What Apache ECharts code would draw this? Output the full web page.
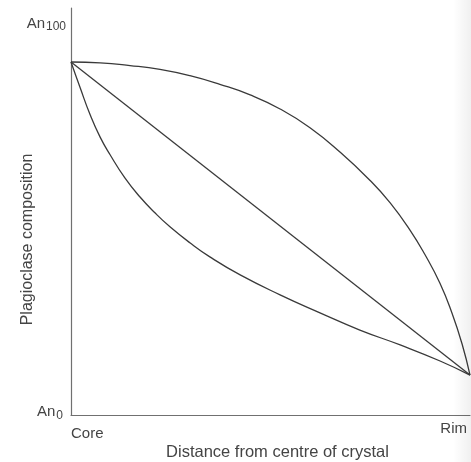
<!DOCTYPE html>
<html>
<head>
<meta charset="utf-8">
<script src="https://cdn.jsdelivr.net/npm/echarts@6/dist/echarts.min.js"></script>
<style>
  html, body { margin: 0; padding: 0; background: #ffffff; }
  #chart { width: 471px; height: 462px; }
</style>
</head>
<body>
<div id="chart"></div>
<script>
// Distance from core (0) to rim (100) across the crystal, composition in % An
const upperX = [0, 7.3, 14.8, 22.3, 29.8, 37.3, 44.9, 52.4, 59.9, 67.4, 74.9, 80.0, 85.0, 88.7, 92.5, 95.5, 98.0, 100];
const upperY = [90.2, 90.0, 89.3, 88.3, 86.7, 84.5, 81.8, 78.2, 73.4, 67.2, 60.0, 54.2, 47.2, 41.0, 33.6, 26.0, 18.2, 10.2];

const straightX = [0, 100];
const straightY = [90.2, 10.2];

const lowerX = [0, 2.3, 4.8, 7.3, 9.8, 13.5, 17.3, 21.1, 24.8, 29.8, 34.8, 42.4, 52.4, 62.4, 72.4, 82.5, 92.5, 100];
const lowerY = [90.2, 83.6, 76.7, 71.0, 66.5, 60.6, 55.7, 51.6, 48.1, 44.0, 40.4, 35.8, 30.7, 26.1, 21.7, 17.9, 13.8, 10.2];

// Axis end labels
const xTickValues = [0, 100];
const xTickLabels = ['Core', 'Rim'];
const yTickValues = [0, 100];
const yTickLabels = [['An', '0'], ['An', '100']];

const FONT = '"Liberation Sans", Arial, Helvetica, sans-serif';
const INK = '#3a3a3a';
const TEXT = '#444';

function pairs(xs, ys) {
  return xs.map((x, i) => [x, ys[i]]);
}

function curve(xs, ys, smooth) {
  return {
    type: 'line',
    data: pairs(xs, ys),
    smooth: smooth,
    showSymbol: false,
    silent: true,
    lineStyle: { color: INK, width: 1.3 },
    z: 3
  };
}

const chart = echarts.init(document.getElementById('chart'), null, { renderer: 'canvas' });

chart.setOption({
  backgroundColor: '#ffffff',
  animation: false,
  grid: { left: 71, right: 1, top: 8, bottom: 47, containLabel: false, outerBoundsMode: 'none' },
  xAxis: {
    type: 'value',
    min: 0,
    max: 100,
    splitLine: { show: false },
    axisTick: { show: false },
    axisLine: { lineStyle: { color: '#707070', width: 1.2 } },
    axisLabel: {
      customValues: xTickValues,
      margin: 6,
      alignMinLabel: 'left',
      alignMaxLabel: 'right',
      color: TEXT,
      fontFamily: FONT,
      fontSize: 15,
      formatter: function (v) {
        const i = xTickValues.indexOf(v);
        if (i < 0) return '';
        return i === 0 ? '{c|' + xTickLabels[i] + '}' : '{r|' + xTickLabels[i] + '}';
      },
      rich: {
        c: { fontFamily: FONT, fontSize: 15, color: TEXT, padding: [5, 0, 0, 0] },
        r: { fontFamily: FONT, fontSize: 15, color: TEXT, padding: [0, 3, 0, 0] }
      }
    },
    name: 'Distance from centre of crystal',
    nameLocation: 'middle',
    nameGap: 29,
    nameMoveOverlap: false,
    nameTextStyle: { fontFamily: FONT, fontSize: 16.5, color: TEXT, padding: [0, 0, 0, 14] }
  },
  yAxis: {
    type: 'value',
    min: 0,
    max: 104,
    splitLine: { show: false },
    axisTick: { show: false },
    axisLine: { lineStyle: { color: '#707070', width: 1.2 } },
    axisLabel: {
      customValues: yTickValues,
      margin: 5,
      color: TEXT,
      fontFamily: FONT,
      formatter: function (v) {
        const i = yTickValues.indexOf(v);
        if (i < 0) return '';
        const t = yTickLabels[i];
        return i === 0 ? '{a0|' + t[0] + '}{s0|' + t[1] + '}' : '{a|' + t[0] + '}{s|' + t[1] + '}';
      },
      rich: {
        a: { fontFamily: FONT, fontSize: 15, color: TEXT },
        s: { fontFamily: FONT, fontSize: 12, color: TEXT, padding: [7, 0, 0, 1] },
        a0: { fontFamily: FONT, fontSize: 15, color: TEXT, padding: [0, 0, 6, 0] },
        s0: { fontFamily: FONT, fontSize: 12, color: TEXT, padding: [2, 3, 0, 1] }
      }
    },
    name: 'Plagioclase composition',
    nameLocation: 'middle',
    nameGap: 35,
    nameMoveOverlap: false,
    nameTextStyle: { fontFamily: FONT, fontSize: 16, color: TEXT, padding: [0, 56, 0, 0] }
  },
  graphic: [
    {
      // soft page-edge shading on the right
      type: 'rect',
      right: 0,
      top: 0,
      silent: true,
      z: 100,
      shape: { width: 18, height: 462 },
      style: {
        fill: new echarts.graphic.LinearGradient(0, 0, 1, 0, [
          { offset: 0, color: 'rgba(0,0,0,0)' },
          { offset: 1, color: 'rgba(0,0,0,0.06)' }
        ])
      }
    }
  ],
  series: [
    curve(upperX, upperY, 0.5),
    curve(straightX, straightY, false),
    curve(lowerX, lowerY, 0.5)
  ]
});
</script>
</body>
</html>
